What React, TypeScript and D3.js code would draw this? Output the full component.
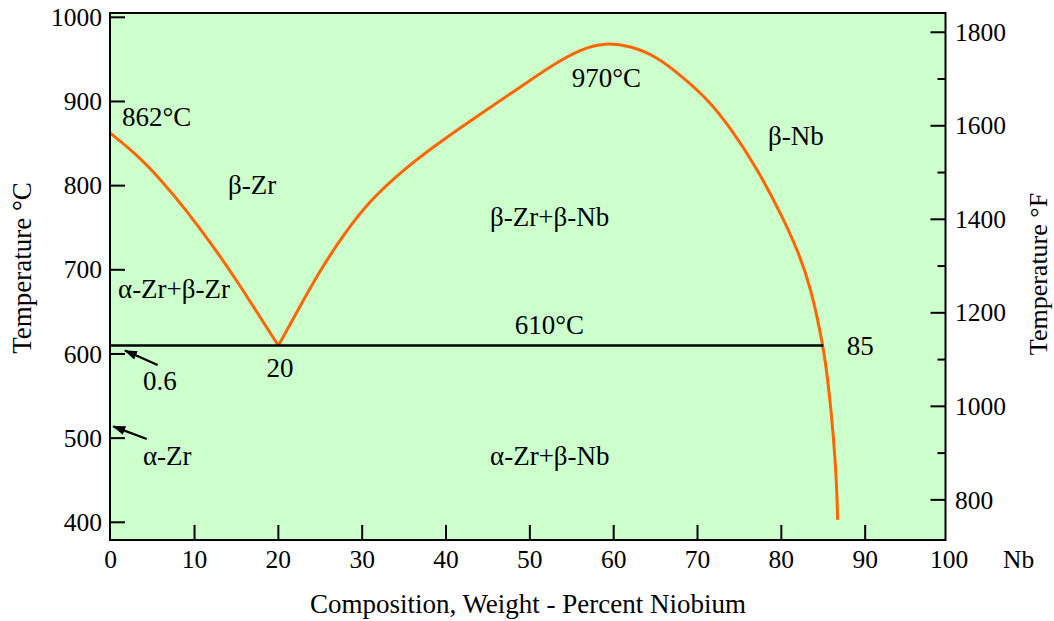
import React from "react";
import * as d3 from "d3";

// ---- data ----
const betaTransus: [number, number][] = [
  [0, 862], [3, 838], [6, 807], [9, 771], [12, 731], [15, 688], [18, 641], [20, 610],
];
const gapBoundary: [number, number][] = [
  [20, 610], [21, 628], [22, 646], [25, 700], [28, 745], [31, 783], [35, 820], [40, 857],
  [45, 891], [50, 925], [53, 945], [56, 962], [59, 970], [62, 966], [65, 954],
  [68, 931], [71, 905], [74, 868], [77, 822], [80, 766], [82, 722], [83.5, 680],
  [85, 610], [85.6, 565], [86.2, 506], [86.6, 446], [86.7, 410], [86.7, 403],
];
const monotectoid: [number, number][] = [[0, 610], [85, 610]];
const xTicks = [0, 10, 20, 30, 40, 50, 60, 70, 80, 90, 100];
const cTicks = [400, 500, 600, 700, 800, 900, 1000];
const fMajor = [800, 1000, 1200, 1400, 1600, 1800];
const fMinor = [900, 1100, 1300, 1500, 1700];
type Lbl = { text: string; x: number; t: number };
const regionLabels: Lbl[] = [
  { text: "862°C", x: 1.35, t: 871 },
  { text: "β-Zr", x: 14, t: 790 },
  { text: "α-Zr+β-Zr", x: 0.87, t: 666.5 },
  { text: "β-Zr+β-Nb", x: 45.25, t: 752 },
  { text: "970°C", x: 55, t: 917 },
  { text: "β-Nb", x: 78.4, t: 848 },
  { text: "610°C", x: 48.2, t: 624 },
  { text: "85", x: 87.8, t: 599 },
  { text: "20", x: 18.6, t: 573 },
  { text: "0.6", x: 3.85, t: 557 },
  { text: "α-Zr", x: 3.85, t: 468 },
  { text: "α-Zr+β-Nb", x: 45.25, t: 468 },
];
const arrows: { from: [number, number]; to: [number, number] }[] = [
  { from: [5.6, 587], to: [1.7, 604] },
  { from: [4.3, 499], to: [0.3, 514] },
];

const FONT = "'Liberation Serif', 'DejaVu Serif', Tinos, 'Times New Roman', Times, serif";
const FS = 25.5;
const LFS = 27;

export default function App() {
  const W = 1054, H = 621;
  const left = 110, right = 945.5, top = 13, bottom = 540;
  const x = d3.scaleLinear().domain([0, 100]).range([110.7, 949]);
  const y = d3.scaleLinear().domain([400, 1000]).range([522.3, 17.3]);
  const yF = (f: number) => y(((f - 32) * 5) / 9);
  const line = d3.line<[number, number]>().x((d) => x(d[0])).y((d) => y(d[1])).curve(d3.curveBasis);
  const straight = d3.line<[number, number]>().x((d) => x(d[0])).y((d) => y(d[1]));
  const ts = { fontFamily: FONT };

  return (
    <svg width={W} height={H} style={{ position: "absolute", left: 0, top: 0, fontFamily: FONT }}>
      <defs>
        <marker id="ah" viewBox="0 0 13 9" refX="12" refY="4.5" markerWidth="13" markerHeight="9" orient="auto" markerUnits="userSpaceOnUse">
          <path d="M0,0 L13,4.5 L0,9 z" fill="#000" />
        </marker>
      </defs>
      <rect x={0} y={0} width={W} height={H} fill="#fff" />
      <rect x={left} y={top} width={right - left} height={bottom - top} fill="#ccffcc" />
      <path d={line(betaTransus) || ""} fill="none" stroke="#ff6600" strokeWidth={3} />
      <path d={line(gapBoundary) || ""} fill="none" stroke="#ff6600" strokeWidth={3} />
      <path d={straight(monotectoid) || ""} fill="none" stroke="#000" strokeWidth={2.5} />
      {cTicks.map((t) => (
        <g key={"c" + t}>
          <line x1={left} x2={left + 15} y1={y(t)} y2={y(t)} stroke="#000" strokeWidth={2} />
          <text x={102} y={y(t)} dy="0.34em" textAnchor="end" fontSize={FS} style={ts}>{t}</text>
        </g>
      ))}
      {fMajor.map((f) => (
        <g key={"f" + f}>
          <line x1={right - 15} x2={right} y1={yF(f)} y2={yF(f)} stroke="#000" strokeWidth={2} />
          <text x={955} y={yF(f)} dy="0.34em" textAnchor="start" fontSize={FS} style={ts}>{f}</text>
        </g>
      ))}
      {fMinor.map((f) => (
        <line key={"fm" + f} x1={right - 8} x2={right} y1={yF(f)} y2={yF(f)} stroke="#000" strokeWidth={2} />
      ))}
      {xTicks.map((v) => (
        <g key={"x" + v}>
          {v > 0 && v < 100 && (
            <line x1={x(v)} x2={x(v)} y1={bottom} y2={bottom - 15} stroke="#000" strokeWidth={2} />
          )}
          <text x={x(v)} y={568} textAnchor="middle" fontSize={FS} style={ts}>{v}</text>
        </g>
      ))}
      <text x={1003} y={568} fontSize={FS} style={ts}>Nb</text>
      <rect x={left} y={top} width={right - left} height={bottom - top} fill="none" stroke="#000" strokeWidth={2} />
      {regionLabels.map((l) => (
        <text key={l.text + l.x} x={x(l.x)} y={y(l.t)} fontSize={LFS} style={ts}>{l.text}</text>
      ))}
      {arrows.map((a, i) => (
        <line key={"a" + i} x1={x(a.from[0])} y1={y(a.from[1])} x2={x(a.to[0])} y2={y(a.to[1])} stroke="#000" strokeWidth={2.2} markerEnd="url(#ah)" />
      ))}
      <text x={528} y={613} textAnchor="middle" fontSize={LFS} style={ts}>Composition, Weight - Percent Niobium</text>
      <text transform="translate(31,268) rotate(-90)" textAnchor="middle" fontSize={LFS} style={ts}>Temperature °C</text>
      <text transform="translate(1047,274) rotate(-90)" textAnchor="middle" fontSize={26} style={ts}>Temperature °F</text>
    </svg>
  );
}
